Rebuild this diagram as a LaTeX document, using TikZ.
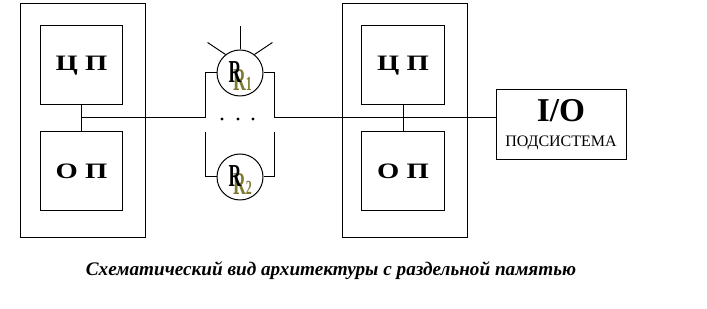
\documentclass[tikz,border=0pt]{standalone}
\usepackage{fontspec}
\setmainfont{Liberation Serif}
\usetikzlibrary{positioning}
\definecolor{shade}{RGB}{128,122,48}
\newcommand{\rlet}{\scalebox{0.55}[1]{\fontsize{24}{24}\selectfont\bfseries R}}
\newcommand{\rlabel}[1]{{\color{shade}\rlap{\hspace{3.5pt}\raisebox{-6pt}{\rlet\scalebox{0.6}[1]{\fontsize{15}{15}\selectfont\bfseries #1}}}}\rlet}
\newcommand{\blkfont}{\fontsize{16.5}{16.5}\selectfont\bfseries}

\begin{document}
\begin{tikzpicture}[x=0.75pt,y=-0.75pt,line width=0.75pt,
  box/.style={draw,rectangle,inner sep=0pt},
  unit/.style={box,minimum width=93.75pt,minimum height=175.5pt},
  blk/.style={box,minimum width=62pt,minimum height=59.25pt},
  res/.style={draw,circle,minimum size=34.5pt,inner sep=0pt},
  rlbl/.style={inner sep=0pt,anchor=base west},
  dot/.style={circle,fill,inner sep=0pt,minimum size=2.5pt}]
\useasboundingbox (0,0) rectangle (707,309);
% left node
\node[unit] (lunit) at (82.5,121) {};
\node[blk] (lcpu) at (81.5,65.5) {\scalebox{1.3}[1]{\blkfont Ц П}};
\node[blk] (lop) at (81.5,171.5) {\scalebox{1.3}[1]{\blkfont О П}};
\draw (lcpu) -- (lop);
% right node
\node[unit] (runit) at (404.5,120.5) {};
\node[blk] (rcpu) at (403,65.5) {\scalebox{1.3}[1]{\blkfont Ц П}};
\node[blk] (rop) at (403,171.5) {\scalebox{1.3}[1]{\blkfont О П}};
\draw (rcpu) -- (rop);
% i/o
\node[box,minimum width=97.5pt,minimum height=52.5pt,align=center] (io) at (561,125)
  {{\fontsize{25}{25}\selectfont\bfseries I/O}\\[7pt]{\fontsize{12}{12}\selectfont ПОДСИСТЕМА}};
% switches
\node[res] (r1) at (240,73) {};
\node[rlbl] (r1l) at (228,82.5) {\rlabel{1}};
\node[res] (r2) at (240,177) {};
\node[rlbl] (r2l) at (228,186.5) {\rlabel{2}};
\draw (r1.north) -- ++(0,-23);
\draw (r1.128) -- ++(-18,-12);
\draw (r1.52) -- ++(18,-12);
% bus
\coordinate (lj) at (81.5,118);
\coordinate (bl) at (205,118);
\coordinate (bll) at (205,132);
\coordinate (br) at (274,118);
\coordinate (brl) at (274,132);
\draw (lj) -- (bl);
\draw (bl) |- (r1);
\draw (bll) |- (r2);
\draw (br) |- (r1);
\draw (brl) |- (r2);
\draw (br) -- (br -| io.west);
\node[dot] (d1) at (222,119) {};
\node[dot] (d2) at (238,119) {};
\node[dot] (d3) at (253,119) {};
% caption
\node (cap) at (331,271) {\fontsize{14.4}{14.4}\selectfont\bfseries\itshape Схематический вид архитектуры с раздельной памятью};
\end{tikzpicture}
\end{document}
